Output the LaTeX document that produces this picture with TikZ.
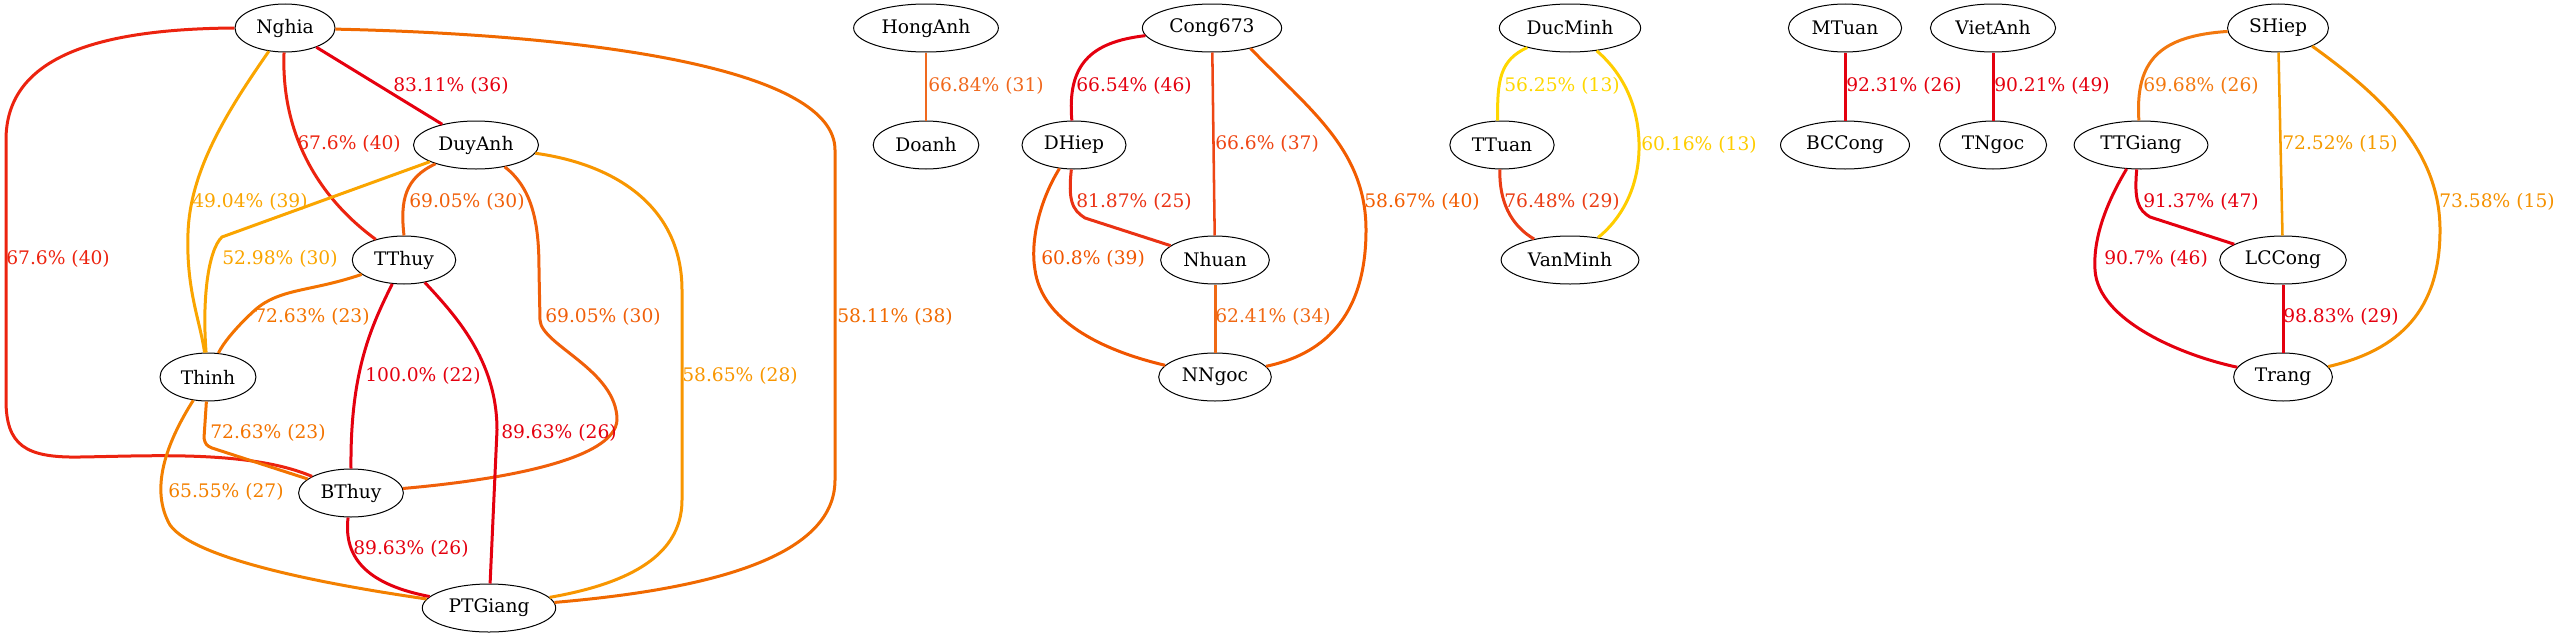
\documentclass[tikz,border=0pt]{standalone}
\usepackage{fontspec}
\setmainfont{DejaVu Serif}
\usetikzlibrary{shapes.geometric}
\definecolor{cRed}{RGB}{228,0,15}
\definecolor{cA}{RGB}{230,0,15}
\definecolor{cB}{RGB}{236,35,15}
\definecolor{cC}{RGB}{250,165,0}
\definecolor{cD}{RGB}{240,95,10}
\definecolor{cE}{RGB}{243,115,0}
\definecolor{cF}{RGB}{240,105,0}
\definecolor{cG}{RGB}{248,150,0}
\definecolor{cH}{RGB}{243,128,0}
\definecolor{cI}{RGB}{240,105,30}
\definecolor{cJ}{RGB}{238,70,20}
\definecolor{cK}{RGB}{234,50,20}
\definecolor{cL}{RGB}{242,92,0}
\definecolor{cM}{RGB}{240,85,0}
\definecolor{cN}{RGB}{240,105,20}
\definecolor{cO}{RGB}{255,215,0}
\definecolor{cP}{RGB}{234,60,20}
\definecolor{cQ}{RGB}{255,205,0}
\definecolor{cR}{RGB}{242,120,15}
\definecolor{cS}{RGB}{245,155,0}
\definecolor{cT}{RGB}{245,145,0}
\begin{document}
\begin{tikzpicture}[x=0.75pt,y=-0.75pt,
  nd/.style={ellipse,draw=black,line width=0.75pt,minimum height=36pt,inner xsep=5pt,inner ysep=0pt,font=\fontsize{14pt}{16pt}\selectfont},
  lb/.style={anchor=west,inner sep=0pt,font=\fontsize{14pt}{16pt}\selectfont},
  e/.style={line width=2.25pt},
  et/.style={line width=1.9pt}]
\useasboundingbox (0,0) rectangle (2561,639);
% nodes
\node[nd] (Nghia) at (285,28) {Nghia};
\node[nd] (DuyAnh) at (476,145) {DuyAnh};
\node[nd] (TThuy) at (404,260) {TThuy};
\node[nd] (Thinh) at (208,377) {Thinh};
\node[nd] (BThuy) at (351,493) {BThuy};
\node[nd] (PTGiang) at (489,608) {PTGiang};
\node[nd] (HongAnh) at (926,28) {HongAnh};
\node[nd] (Doanh) at (926,145) {Doanh};
\node[nd] (Cong673) at (1212,28) {Cong673};
\node[nd] (DHiep) at (1074,145) {DHiep};
\node[nd] (Nhuan) at (1215,260) {Nhuan};
\node[nd] (NNgoc) at (1215,377) {NNgoc};
\node[nd] (DucMinh) at (1570,28) {DucMinh};
\node[nd] (TTuan) at (1502,145) {TTuan};
\node[nd] (VanMinh) at (1570,260) {VanMinh};
\node[nd] (MTuan) at (1845,28) {MTuan};
\node[nd] (BCCong) at (1845,145) {BCCong};
\node[nd] (VietAnh) at (1993,28) {VietAnh};
\node[nd] (TNgoc) at (1993,145) {TNgoc};
\node[nd] (SHiep) at (2278,28) {SHiep};
\node[nd] (TTGiang) at (2141,145) {TTGiang};
\node[nd] (LCCong) at (2283,260) {LCCong};
\node[nd] (Trang) at (2283,377) {Trang};
% edges
\draw[e,cA] (Nghia) -- (DuyAnh);
\draw[e,cB] (Nghia) .. controls (281,130) and (315,195) .. (TThuy);
\draw[e,cC] (Nghia) .. controls (228,110) and (190,170) .. (188,233) .. controls (186,290) and (200,320) .. (Thinh);
\draw[e,cB] (Nghia.west) .. controls (90,29) and (6,60) .. (6,140) -- (6,400) .. controls (6,445) and (25,458) .. (80,457) .. controls (150,456) and (250,450) .. (BThuy);
\draw[e,cF] (Nghia) .. controls (600,35) and (835,70) .. (835,150) -- (835,480) .. controls (835,560) and (700,590) .. (PTGiang);
\draw[e,cC] (DuyAnh) -- (222,237) .. controls (208,250) and (202,300) .. (Thinh);
\draw[e,cD] (DuyAnh) .. controls (405,178) and (400,200) .. (TThuy.north);
\draw[e,cD] (DuyAnh) .. controls (535,190) and (539,230) .. (539,270) -- (540,320) .. controls (541,345) and (617,370) .. (617,420) .. controls (615,460) and (500,480) .. (BThuy);
\draw[e,cG] (DuyAnh) .. controls (620,165) and (682,210) .. (682,290) -- (682,500) .. controls (682,560) and (620,585) .. (PTGiang);
\draw[e,cE] (TThuy) .. controls (310,292) and (280,288) .. (255,310) .. controls (235,328) and (222,345) .. (Thinh);
\draw[e,cRed] (TThuy) .. controls (372,325) and (350,370) .. (BThuy.north);
\draw[e,cRed] (TThuy) .. controls (455,315) and (497,360) .. (497,430) -- (PTGiang);
\draw[e,cE] (Thinh) -- (204,438) .. controls (205,444) and (207,446) .. (212,448) -- (BThuy);
\draw[e,cH] (Thinh) .. controls (165,445) and (150,490) .. (170,525) .. controls (195,560) and (330,585) .. (PTGiang);
\draw[e,cRed] (BThuy) .. controls (343,560) and (370,585) .. (PTGiang);
\draw[et,cI] (HongAnh) -- (Doanh);
\draw[e,cRed] (Cong673) .. controls (1090,42) and (1067,65) .. (DHiep);
\draw[et,cJ] (Cong673) -- (Nhuan);
\draw[e,cK] (DHiep) .. controls (1068,200) and (1072,210) .. (1085,218) -- (Nhuan);
\draw[e,cL] (Cong673.-28) .. controls (1310,110) and (1366,150) .. (1366,230) .. controls (1366,320) and (1320,355) .. (NNgoc);
\draw[e,cM] (DHiep) .. controls (1040,200) and (1030,240) .. (1035,270) .. controls (1042,320) and (1100,350) .. (NNgoc);
\draw[e,cN] (Nhuan) -- (NNgoc);
\draw[e,cO] (DucMinh) .. controls (1500,60) and (1497,80) .. (TTuan.100);
\draw[e,cQ] (DucMinh) .. controls (1625,75) and (1640,110) .. (1639,150) .. controls (1638,190) and (1620,220) .. (VanMinh);
\draw[e,cP] (TTuan.-95) .. controls (1499,200) and (1510,225) .. (VanMinh);
\draw[e,cRed] (MTuan) -- (BCCong);
\draw[e,cRed] (VietAnh) -- (TNgoc);
\draw[e,cR] (SHiep) .. controls (2160,36) and (2135,60) .. (TTGiang.95);
\draw[et,cS] (SHiep) -- (LCCong);
\draw[e,cT] (SHiep.-28) .. controls (2380,95) and (2440,150) .. (2440,230) .. controls (2440,310) and (2400,350) .. (Trang);
\draw[e,cRed] (TTGiang.-100) .. controls (2134,200) and (2138,210) .. (2150,217) -- (LCCong);
\draw[e,cRed] (TTGiang) .. controls (2105,205) and (2093,240) .. (2095,270) .. controls (2098,320) and (2180,355) .. (Trang);
\draw[e,cRed] (LCCong) -- (Trang);
% labels
\node[lb,text=cA] (l1) at (393,86) {83.11\% (36)};
\node[lb,text=cB] (l2) at (297,144) {67.6\% (40)};
\node[lb,text=cC] (l3) at (192,202) {49.04\% (39)};
\node[lb,text=cD] (l4) at (409,202) {69.05\% (30)};
\node[lb,text=cB] (l5) at (6,259) {67.6\% (40)};
\node[lb,text=cC] (l6) at (222,259) {52.98\% (30)};
\node[lb,text=cE] (l7) at (254,317) {72.63\% (23)};
\node[lb,text=cD] (l8) at (545,317) {69.05\% (30)};
\node[lb,text=cF] (l9) at (837,317) {58.11\% (38)};
\node[lb,text=cRed] (l10) at (365,376) {100.0\% (22)};
\node[lb,text=cG] (l11) at (682,376) {58.65\% (28)};
\node[lb,text=cE] (l12) at (210,433) {72.63\% (23)};
\node[lb,text=cRed] (l13) at (501,433) {89.63\% (26)};
\node[lb,text=cH] (l14) at (168,492) {65.55\% (27)};
\node[lb,text=cRed] (l15) at (353,549) {89.63\% (26)};
\node[lb,text=cI] (l16) at (928,86) {66.84\% (31)};
\node[lb,text=cRed] (l17) at (1076,86) {66.54\% (46)};
\node[lb,text=cJ] (l18) at (1215,144) {66.6\% (37)};
\node[lb,text=cK] (l19) at (1076,202) {81.87\% (25)};
\node[lb,text=cL] (l20) at (1364,202) {58.67\% (40)};
\node[lb,text=cM] (l21) at (1041,259) {60.8\% (39)};
\node[lb,text=cN] (l22) at (1215,317) {62.41\% (34)};
\node[lb,text=cO] (l23) at (1504,86) {56.25\% (13)};
\node[lb,text=cP] (l24) at (1504,202) {76.48\% (29)};
\node[lb,text=cQ] (l25) at (1641,145) {60.16\% (13)};
\node[lb,text=cRed] (l26) at (1846,86) {92.31\% (26)};
\node[lb,text=cRed] (l27) at (1994,86) {90.21\% (49)};
\node[lb,text=cR] (l28) at (2143,86) {69.68\% (26)};
\node[lb,text=cS] (l29) at (2282,144) {72.52\% (15)};
\node[lb,text=cRed] (l30) at (2143,202) {91.37\% (47)};
\node[lb,text=cT] (l31) at (2439,202) {73.58\% (15)};
\node[lb,text=cRed] (l32) at (2104,259) {90.7\% (46)};
\node[lb,text=cRed] (l33) at (2283,317) {98.83\% (29)};
\end{tikzpicture}
\end{document}
